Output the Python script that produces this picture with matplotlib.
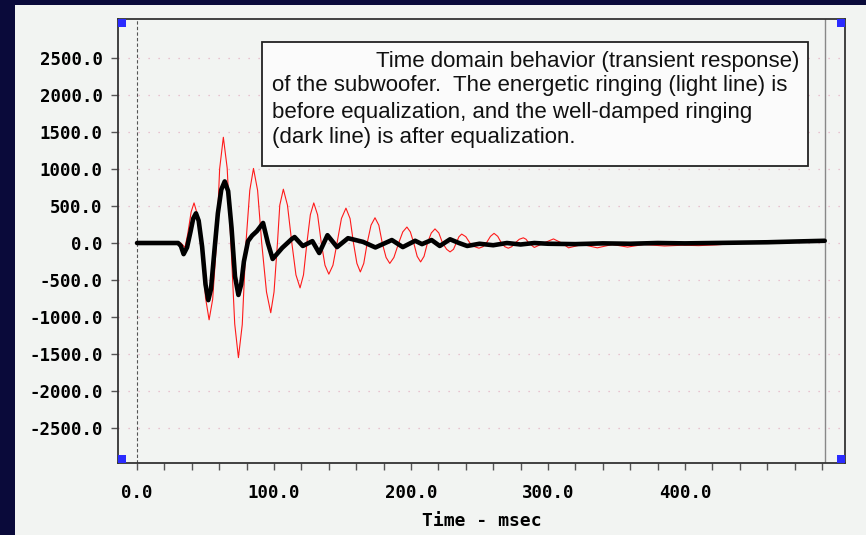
import matplotlib
matplotlib.use("Agg")
import matplotlib.pyplot as plt
from matplotlib.patches import Rectangle
from matplotlib.ticker import MultipleLocator

# before equalization (light line), time in msec
before_t = [0, 32, 35, 37, 39.5, 41.6, 43.8, 47, 50, 52.6, 55.2, 58, 60.3, 63, 65.8,
            68.5, 71.3, 74, 76.8, 79.5, 82.3, 85, 88, 91, 94.5, 97.6, 100, 102.5,
            104.2, 106.8, 109.8, 113, 116, 119, 121.5, 124, 126.5, 129, 131.8, 134.5,
            137.2, 140, 143, 146, 149.2, 152.5, 155.5, 158, 160.5, 163, 165.5, 168,
            170.8, 173.7, 176.5, 179, 181.8, 184.5, 187.5, 191, 194, 197, 199.5, 202,
            204.5, 207, 209.5, 212, 214.8, 217.5, 220.3, 223, 226, 228.5, 231, 233,
            235, 237, 240, 243, 246.5, 249.6, 252.5, 255, 258, 260.6, 263.3, 266,
            268.5, 271, 273.5, 276, 279, 282, 284, 286, 290, 297, 304, 310, 315, 325,
            336, 347, 358, 370, 385, 398, 410, 423, 435, 452, 470, 485, 502]
before_v = [0, 0, -60, 120, 420, 540, 400, 0, -740, -1035, -760, 0, 1000, 1425, 1010,
            0, -1090, -1545, -1100, 0, 710, 1005, 710, 0, -660, -940, -660, 0,
            510, 725, 510, 0, -430, -605, -430, 0, 380, 540, 380, 0,
            -300, -420, -300, 0, 330, 470, 330, 0, -275, -390, -275, 0,
            240, 340, 240, 0, -195, -275, -195, 0, 150, 215, 150, 0,
            -180, -255, -180, 0, 135, 190, 135, 0, -85, -120, -85, 0,
            85, 120, 85, 0, -50, -70, -50, 0, 90, 130, 90, 0,
            -50, -70, -50, 0, 50, 70, 50, 0, -60, 0, 55, 0, -65, -20,
            -65, -20, -55, -20, -40, -30, -35, -25, -10, 10, 5, 20, 35]

# after equalization (dark line)
after_t = [0, 30, 32, 34, 36.5, 39, 41, 43, 45, 47.5, 50, 52, 54, 56.5, 59, 61.5, 64,
           66.5, 69, 71.5, 74, 76, 78, 81, 84, 87.5, 92, 95.5, 99, 102.5, 106, 113,
           115, 121, 128, 133, 139, 146, 154, 165, 174, 186, 194, 203, 208, 215, 221,
           228.5, 235, 241, 250, 260, 270, 280, 290, 300, 320, 340, 360, 380, 400,
           420, 440, 460, 480, 502]
after_v = [0, 0, -40, -150, -60, 150, 330, 400, 300, -50, -560, -770, -620, -100, 400,
           720, 830, 700, 200, -450, -700, -560, -250, 25, 100, 160, 270, 0, -215,
           -140, -65, 55, 80, -40, 25, -135, 105, -55, 65, 15, -60, 40, -55, 30, -15,
           40, -40, 50, 0, -40, -10, -30, 0, -20, 0, -10, -15, -5, -10, 0, -5, 0, 5,
           10, 20, 30]

y_ticks = [2500, 2000, 1500, 1000, 500, 0, -500, -1000, -1500, -2000, -2500]
x_ticks = [0, 100, 200, 300, 400]

caption = [
    "Time domain behavior (transient response)",
    "of the subwoofer.  The energetic ringing (light line) is",
    "before equalization, and the well-damped ringing",
    "(dark line) is after equalization.",
]

W, H = 866, 535
NAVY = "#0a0a3a"
PANEL = "#f2f4f2"

fig = plt.figure(figsize=(W / 100, H / 100), dpi=100, facecolor=NAVY)
fig.add_artist(Rectangle((15 / W, 0), 1 - 15 / W, 530 / H, transform=fig.transFigure,
                         facecolor=PANEL, edgecolor="none", zorder=0))

ax = fig.add_axes([118 / W, (H - 463) / H, (845 - 118) / W, (463 - 19) / H])
ax.set_facecolor(PANEL)

ax.grid(axis="y", color="#e6b3c6", linestyle=(0, (1, 7)), linewidth=0.9)
ax.set_axisbelow(True)

ax.axvline(0, color="#555555", linestyle=(0, (3, 2)), linewidth=0.8)
ax.axvline(502, color="#888888", linewidth=1.0)

ax.plot(before_t, before_v, color="#ff1a1a", linewidth=0.8, zorder=3)
ax.plot(after_t, after_v, color="black", linewidth=3.3, solid_joinstyle="round",
        solid_capstyle="round", zorder=4)

mono = {"family": "DejaVu Sans Mono", "weight": "bold", "size": 12.5}
ax.set_yticks(y_ticks)
ax.set_yticklabels([f"{v:.1f}" for v in y_ticks], fontdict=mono)
ax.set_xticks(x_ticks)
ax.set_xticklabels([f"{v:.1f}" for v in x_ticks], fontdict=mono)
ax.xaxis.set_minor_locator(MultipleLocator(20))
ax.set_xlim(-13.9, 516.8)
ax.set_ylim(-2965, 3019)
ax.tick_params(axis="y", direction="out", length=5, width=1, color="#555555", pad=6)
ax.tick_params(axis="x", which="both", direction="out", length=5, width=1,
               color="#555555", pad=10)
ax.set_xlabel("Time - msec", fontdict={"family": "DejaVu Sans Mono", "weight": "bold",
                                        "size": 13}, labelpad=7)

for side in ["left", "right", "top", "bottom"]:
    ax.spines[side].set_color("#333333")
    ax.spines[side].set_linewidth(1.3)

# blue handles in the corners
sq_w, sq_h = 8 / 727, 8 / 444
for cx, cy in [(0, 1 - sq_h), (1 - sq_w, 1 - sq_h), (0, 0), (1 - sq_w, 0)]:
    ax.add_patch(Rectangle((cx, cy), sq_w, sq_h, transform=ax.transAxes,
                           facecolor="#2b2bff", edgecolor="none", zorder=6, clip_on=False))

# caption box
fig.add_artist(Rectangle((262 / W, (H - 166) / H), (808 - 262) / W, (166 - 42) / H,
                         transform=fig.transFigure, facecolor="#fbfbfb",
                         edgecolor="#222222", linewidth=1.3, zorder=7))
line_x = [376, 272, 272, 272]
line_y = [61, 86, 112, 137]
for txt, lx, ly in zip(caption, line_x, line_y):
    fig.text(lx / W, 1 - ly / H, txt, family="Liberation Sans", fontsize=16,
             color="#111111", va="center", ha="left", zorder=8)

fig.savefig("out.png", dpi=100, facecolor=NAVY)
